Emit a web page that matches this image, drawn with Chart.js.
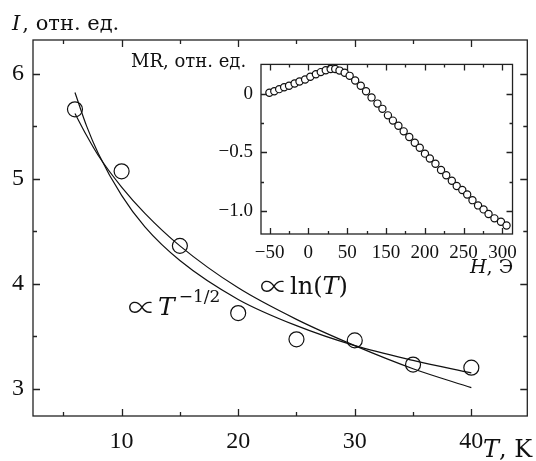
<!DOCTYPE html>
<html>
<head>
<meta charset="utf-8">
<script src="https://cdn.jsdelivr.net/npm/chart.js@4.4.1/dist/chart.umd.min.js"></script>
<style>
body { margin: 0; background: #fff; }
#wrap { position: relative; width: 536px; height: 461px; }
#main { position: absolute; left: 0; top: 0; }
#inset { position: absolute; left: 200px; top: 45px; }
</style>
</head>
<body>
<div id="wrap">
<canvas id="main" width="536" height="461"></canvas>
<canvas id="inset" width="325" height="240"></canvas>
</div>
<script>
// ===== интенсивность от температуры =====
const T = [6, 10, 15, 20, 25, 30, 35, 40];
const I_exp = [5.66, 5.07, 4.36, 3.72, 3.47, 3.46, 3.23, 3.20];

// кривые
const T_fit = [6, 7, 8, 10, 12, 15, 20, 25, 30, 35, 40];
const I_sqrt = [5.82, 5.50, 5.24, 4.84, 4.54, 4.22, 3.85, 3.60, 3.41, 3.27, 3.15];
const I_ln = [5.62, 5.41, 5.22, 4.92, 4.67, 4.36, 3.96, 3.66, 3.41, 3.19, 3.01];

const xTicks = [10, 20, 30, 40];
const xMinor = [5, 15, 25, 35];
const yTicks = [3, 4, 5, 6];
const yMinor = [3.5, 4.5, 5.5];

// ===== вставка: MR от поля =====
const H = [-50.2, -43.9, -37.6, -31.2, -24.9, -17.7, -11.4, -4.2, 2.5, 9.7,
  16.0, 22.4, 28.7, 34.6, 40.1, 46.8, 53.2, 60.3, 67.5, 74.3,
  81.4, 89.0, 95.4, 102.5, 108.9, 116.0, 122.8, 130.0, 137.1, 143.5,
  150.2, 156.5, 163.7, 170.9, 177.6, 184.8, 191.1, 198.3, 204.6, 211.4,
  218.6, 225.7, 232.1, 239.7, 248.1, 255.3];
const MR = [0.011, 0.024, 0.042, 0.058, 0.071, 0.090, 0.108, 0.124, 0.148, 0.169,
  0.188, 0.204, 0.214, 0.214, 0.201, 0.183, 0.156, 0.116, 0.071, 0.024,
  -0.029, -0.082, -0.127, -0.183, -0.228, -0.272, -0.320, -0.368, -0.418, -0.460,
  -0.511, -0.553, -0.598, -0.651, -0.696, -0.743, -0.788, -0.823, -0.862, -0.910,
  -0.955, -0.989, -1.029, -1.066, -1.095, -1.127];

const hTicks = [-50, 0, 50, 100, 150, 200, 250];
const hLabels = ['−50', '0', '50', '150', '200', '250', '300'];
const hMinor = [-25, 25, 75, 125, 175, 225];
const mrTicks = [0, -0.5, -1.0];
const mrLabels = ['0', '−0.5', '−1.0'];
const mrMinor = [-0.25, -0.75];

const SERIF = '"Liberation Serif", "DejaVu Serif", serif';
const WIDE = '"DejaVu Serif", serif';
const THIN = '"Noto Sans CJK JP", "DejaVu Sans", sans-serif';
const INK = '#111';

function pts(xs, ys){
  return xs.map((v, i) => ({x: v, y: ys[i]}));
}

// рамка и засечки внутрь со всех четырёх сторон
function frameTicks(o){
  return {
    id: 'frameTicks',
    afterDraw(chart){
      let ctx = chart.ctx;
      let a = chart.chartArea;
      let sx = chart.scales.x, sy = chart.scales.y;
      ctx.save();
      ctx.strokeStyle = '#222';
      ctx.lineWidth = 1.3;
      ctx.strokeRect(a.left, a.top, a.right - a.left, a.bottom - a.top);
      ctx.beginPath();
      const xt = (list, len) => list.forEach(v => {
        let p = Math.round(sx.getPixelForValue(v)) + 0.5;
        ctx.moveTo(p, a.bottom); ctx.lineTo(p, a.bottom - len);
        ctx.moveTo(p, a.top); ctx.lineTo(p, a.top + len);
      });
      const yt = (list, len) => list.forEach(v => {
        let p = Math.round(sy.getPixelForValue(v)) + 0.5;
        ctx.moveTo(a.left, p); ctx.lineTo(a.left + len, p);
        ctx.moveTo(a.right, p); ctx.lineTo(a.right - len, p);
      });
      xt(o.xMajor, o.major); xt(o.xMinor, o.minor);
      yt(o.yMajor, o.major); yt(o.yMinor, o.minor);
      ctx.stroke();
      ctx.restore();
    }
  };
}

// кусочки текста: [строка, курсив?, сдвиг по y, размер, отступ после, шрифт, насыщенность]
function drawRich(ctx, x, y, parts, size){
  parts.forEach(p => {
    let s = p[3] || size;
    ctx.font = (p[1] ? 'italic ' : '') + (p[6] || 400) + ' ' + s + 'px ' + (p[5] || WIDE);
    ctx.fillText(p[0], x, y + (p[2] || 0));
    x += ctx.measureText(p[0]).width + (p[4] || 0);
  });
}

const labels = {
  id: 'labels',
  afterDraw(chart){
    let ctx = chart.ctx;
    ctx.save();
    ctx.fillStyle = INK;
    ctx.textBaseline = 'alphabetic';
    drawRich(ctx, 12, 30, [['I', true, 0, 0, 2], [', отн. ед.', false]], 21);
    drawRich(ctx, 483, 457, [['T', true], [', K', false]], 24);
    drawRich(ctx, 260, 294, [['∝', false, 3, 28, 2, THIN, 300], ['ln(', false], ['T', true], [')', false]], 24);
    drawRich(ctx, 128, 315, [['∝', false, 3, 28, 2, THIN, 300], ['T', true, 0, 0, 4], ['−1/2', false, -13, 17]], 25);
    drawRich(ctx, 131, 67, [['MR, отн. ед.', false]], 18);
    drawRich(ctx, 470, 273, [['H', true], [', Э', false]], 19);
    ctx.restore();
  }
};

let mainChart = new Chart(document.getElementById('main'), {
  type: 'scatter',
  data: {
    datasets: [
      {
        data: pts(T, I_exp),
        showLine: false,
        pointStyle: 'circle',
        pointRadius: 7.5,
        borderColor: INK,
        borderWidth: 1.2,
        backgroundColor: 'rgba(0,0,0,0)'
      },
      {
        data: pts(T_fit, I_sqrt),
        showLine: true,
        pointRadius: 0,
        borderColor: INK,
        borderWidth: 1.2,
        cubicInterpolationMode: 'monotone'
      },
      {
        data: pts(T_fit, I_ln),
        showLine: true,
        pointRadius: 0,
        borderColor: INK,
        borderWidth: 1.2,
        cubicInterpolationMode: 'monotone'
      }
    ]
  },
  options: {
    responsive: false,
    animation: false,
    devicePixelRatio: 1,
    layout: { padding: { top: 40, right: 1, left: 0, bottom: 0 } },
    plugins: { legend: { display: false }, tooltip: { enabled: false } },
    scales: {
      x: {
        min: 2.4, max: 44.8,
        grid: { display: false, drawTicks: false },
        border: { display: false },
        afterBuildTicks: s => { s.ticks = xTicks.map(v => ({value: v})); },
        afterFit: s => { s.height = 45; },
        ticks: { color: INK, padding: 11, font: { family: SERIF, size: 24 } }
      },
      y: {
        min: 2.74, max: 6.32,
        grid: { display: false, drawTicks: false },
        border: { display: false },
        afterBuildTicks: s => { s.ticks = yTicks.map(v => ({value: v})); },
        afterFit: s => { s.width = 33; },
        ticks: { color: INK, padding: 9, font: { family: SERIF, size: 24 } }
      }
    }
  },
  plugins: [frameTicks({xMajor: xTicks, xMinor: xMinor, yMajor: yTicks, yMinor: yMinor, major: 7, minor: 4}), labels]
});

let insetChart = new Chart(document.getElementById('inset'), {
  type: 'scatter',
  data: {
    datasets: [{
      data: pts(H, MR),
      showLine: false,
      pointStyle: 'circle',
      pointRadius: 3.6,
      borderColor: INK,
      borderWidth: 1.2,
      backgroundColor: '#fff'
    }]
  },
  options: {
    responsive: false,
    animation: false,
    devicePixelRatio: 1,
    layout: { padding: { top: 6, right: 8, left: 0, bottom: 0 } },
    plugins: { legend: { display: false }, tooltip: { enabled: false } },
    scales: {
      x: {
        min: -61, max: 263,
        grid: { display: false, drawTicks: false },
        border: { display: false },
        afterBuildTicks: s => { s.ticks = hTicks.map(v => ({value: v})); },
        afterFit: s => { s.height = 51; },
        ticks: { color: INK, padding: 8, font: { family: SERIF, size: 19 },
          callback: (v, i) => hLabels[i] }
      },
      y: {
        min: -1.2, max: 0.254,
        grid: { display: false, drawTicks: false },
        border: { display: false },
        afterBuildTicks: s => { s.ticks = mrTicks.map(v => ({value: v})); },
        afterFit: s => { s.width = 61; },
        ticks: { color: INK, padding: 8, font: { family: SERIF, size: 19 },
          callback: (v, i) => mrLabels[i] }
      }
    }
  },
  plugins: [frameTicks({xMajor: hTicks, xMinor: hMinor, yMajor: mrTicks, yMinor: mrMinor, major: 6, minor: 3})]
});
</script>
</body>
</html>
